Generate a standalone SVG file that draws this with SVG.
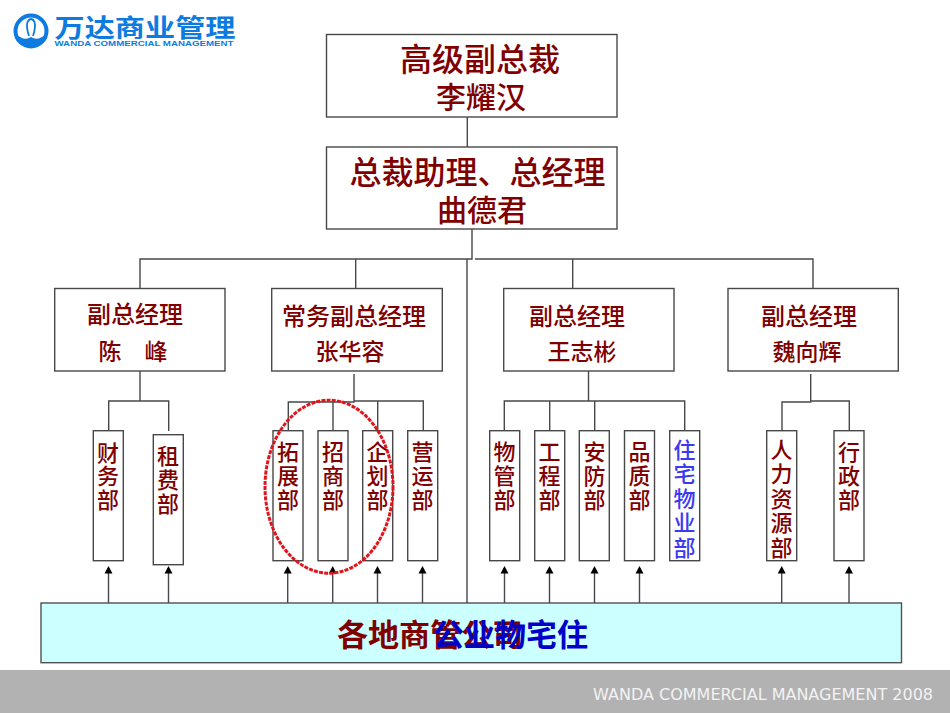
<svg xmlns="http://www.w3.org/2000/svg" width="950" height="713" viewBox="0 0 950 713">
<style>
text{font-family:"Noto Sans CJK SC","Liberation Sans",sans-serif;fill:#800000;text-anchor:middle;font-weight:500}
.box{fill:#fff;stroke:#484848;stroke-width:1.4}
.ln{fill:none;stroke:#484848;stroke-width:1.4}
.t1{font-size:32px}.t2{font-size:30px}.t3{font-size:24px}.t4{font-size:23px}.v{font-size:22px}
.blue{fill:#3a3af0}
</style>
<rect width="950" height="713" fill="#fff"/>
<g id="logo">
<circle cx="31" cy="31" r="15.5" fill="none" stroke="#0d7be0" stroke-width="4"/>
<path d="M15 33Q24 42 31 37Q38 42 47 33L44 41Q37 47 31 47Q25 47 18 41Z" fill="#0d7be0"/>
<path d="M29 36Q26 27 27.500 22Q29 19 31 19Q33 19 34.500 22Q36 27 33 36" fill="none" stroke="#0d7be0" stroke-width="1.800"/>
<text x="145" y="37" style="font-size:25px;fill:#0d7be0;font-weight:700" textLength="181" lengthAdjust="spacingAndGlyphs">万达商业管理</text>
<text x="144" y="46" style="font-family:'Liberation Sans',sans-serif;font-size:7.4px;font-weight:700;fill:#0d7be0" textLength="179" lengthAdjust="spacingAndGlyphs">WANDA COMMERCIAL MANAGEMENT</text>
</g>
<g id="footer"><rect x="0" y="670" width="950" height="43" fill="#b2b2b2"/>
<text x="933" y="700" style="font-family:'DejaVu Sans',sans-serif;font-size:16px;fill:#f2f2f2;text-anchor:end;font-weight:400">WANDA COMMERCIAL MANAGEMENT 2008</text></g>
<g id="connectors">
<path class="ln" d="M467.3 117V147M472 229V259H140V288.500M475 259H813V288.500M467 259V603"/>
<path class="ln" d="M355.700 259V288.500M572.700 259V288.500"/>
<path class="ln" d="M140 371V401M108.700 431V401H168.700V431"/>
<path class="ln" d="M354 374V402H288.300V431M354 401H423.300V431M333 402V431M377.700 401V431"/>
<path class="ln" d="M588.500 371V401M504.300 431V401H684.700V431M549.700 401V431M594.700 401V431"/>
<path class="ln" d="M810.700 374V402H782V431M810.700 401H849.300V431"/>
<path class="ln" d="M108.500 603V572M168.500 603V572M287.700 603V572M332.700 603V572M377.500 603V572M422.500 603V572M504.500 603V572M549.500 603V572M594.500 603V572M639.500 603V572M781.700 603V572M849 603V572"/>
<path fill="#000" d="M108.500 566l4 7.500h-8zM168.500 566l4 7.500h-8zM287.700 566l4 7.500h-8zM332.700 566l4 7.500h-8zM377.500 566l4 7.500h-8zM422.500 566l4 7.500h-8zM504.500 566l4 7.500h-8zM549.500 566l4 7.500h-8zM594.500 566l4 7.500h-8zM639.500 566l4 7.500h-8zM781.700 566l4 7.500h-8zM849 566l4 7.500h-8z"/>
</g>
<g id="svp"><rect class="box" x="326.500" y="34.500" width="290.500" height="82.500"/><text class="t1" x="480" y="71">高级副总裁</text><text class="t2" x="481" y="108">李耀汉</text></g>
<g id="gm"><rect class="box" x="326.500" y="147" width="290.500" height="82"/><text class="t1" x="477.500" y="183.500">总裁助理、总经理</text><text class="t2" x="482" y="221">曲德君</text></g>
<g id="vp1"><rect class="box" x="54.700" y="288.500" width="170.300" height="82.500"/><text class="t3" x="135" y="323">副总经理</text><text class="t4" x="133" y="360">陈　峰</text></g>
<g id="vp2"><rect class="box" x="271.700" y="288.500" width="170.600" height="82.500"/><text class="t3" x="354" y="325">常务副总经理</text><text class="t4" x="350" y="360">张华容</text></g>
<g id="vp3"><rect class="box" x="503.700" y="288.500" width="170.300" height="82.500"/><text class="t3" x="577" y="325">副总经理</text><text class="t4" x="582" y="360">王志彬</text></g>
<g id="vp4"><rect class="box" x="728" y="288.500" width="170.300" height="82.500"/><text class="t3" x="809" y="325">副总经理</text><text class="t4" x="807" y="360">魏向辉</text></g>
<g id="d1"><rect class="box" x="93.300" y="430.700" width="30" height="130"/><text class="v"><tspan x="108" y="460.500">财</tspan><tspan x="108" y="484">务</tspan><tspan x="108" y="508">部</tspan></text></g>
<g id="d2"><rect class="box" x="153.300" y="434.700" width="30" height="130"/><text class="v"><tspan x="168" y="464">租</tspan><tspan x="168" y="488">费</tspan><tspan x="168" y="512">部</tspan></text></g>
<g id="d3"><rect class="box" x="273" y="430.700" width="30" height="130"/><text class="v"><tspan x="288" y="460">拓</tspan><tspan x="288" y="484">展</tspan><tspan x="288" y="508">部</tspan></text></g>
<g id="d4"><rect class="box" x="318" y="430.700" width="30" height="130"/><text class="v"><tspan x="333" y="460">招</tspan><tspan x="333" y="484">商</tspan><tspan x="333" y="508">部</tspan></text></g>
<g id="d5"><rect class="box" x="362.700" y="430.700" width="30" height="130"/><text class="v"><tspan x="377.500" y="460">企</tspan><tspan x="377.500" y="484">划</tspan><tspan x="377.500" y="508">部</tspan></text></g>
<g id="d6"><rect class="box" x="407.700" y="430.700" width="30" height="130"/><text class="v"><tspan x="422.500" y="460">营</tspan><tspan x="422.500" y="484">运</tspan><tspan x="422.500" y="508">部</tspan></text></g>
<g id="d7"><rect class="box" x="489.700" y="430.700" width="30" height="130"/><text class="v"><tspan x="504.500" y="460">物</tspan><tspan x="504.500" y="484">管</tspan><tspan x="504.500" y="508">部</tspan></text></g>
<g id="d8"><rect class="box" x="534.700" y="430.700" width="30" height="130"/><text class="v"><tspan x="549.500" y="460">工</tspan><tspan x="549.500" y="484">程</tspan><tspan x="549.500" y="508">部</tspan></text></g>
<g id="d9"><rect class="box" x="579.300" y="430.700" width="30" height="130"/><text class="v"><tspan x="594.500" y="460">安</tspan><tspan x="594.500" y="484">防</tspan><tspan x="594.500" y="508">部</tspan></text></g>
<g id="d10"><rect class="box" x="624.500" y="430.700" width="30" height="130"/><text class="v"><tspan x="639.500" y="460">品</tspan><tspan x="639.500" y="484">质</tspan><tspan x="639.500" y="508">部</tspan></text></g>
<g id="d11"><rect class="box" x="669.700" y="430.700" width="30" height="130"/><text class="v blue"><tspan x="684.500" y="458">住</tspan><tspan x="684.500" y="482">宅</tspan><tspan x="684.500" y="507">物</tspan><tspan x="684.500" y="531">业</tspan><tspan x="684.500" y="556">部</tspan></text></g>
<g id="d12"><rect class="box" x="766.700" y="430.700" width="30" height="130"/><text class="v"><tspan x="781.500" y="458">人</tspan><tspan x="781.500" y="482">力</tspan><tspan x="781.500" y="507">资</tspan><tspan x="781.500" y="531">源</tspan><tspan x="781.500" y="556">部</tspan></text></g>
<g id="d13"><rect class="box" x="834" y="430.700" width="30" height="130"/><text class="v"><tspan x="849" y="460">行</tspan><tspan x="849" y="484">政</tspan><tspan x="849" y="508">部</tspan></text></g>
<g id="base"><rect x="41" y="603" width="860.500" height="59.700" fill="#ccffff" stroke="#505050" stroke-width="1.400"/>
<text x="337" y="646" style="font-size:31px;text-anchor:start;font-weight:700">各地商管公司</text>
<text x="433" y="646" style="font-size:31px;text-anchor:start;font-weight:700;fill:#0000c8">公业物宅住</text></g>
<ellipse id="mark" cx="329" cy="486.700" rx="64" ry="86.500" fill="none" stroke="#e0141c" stroke-width="3" stroke-dasharray="4 1.200"/>
</svg>
